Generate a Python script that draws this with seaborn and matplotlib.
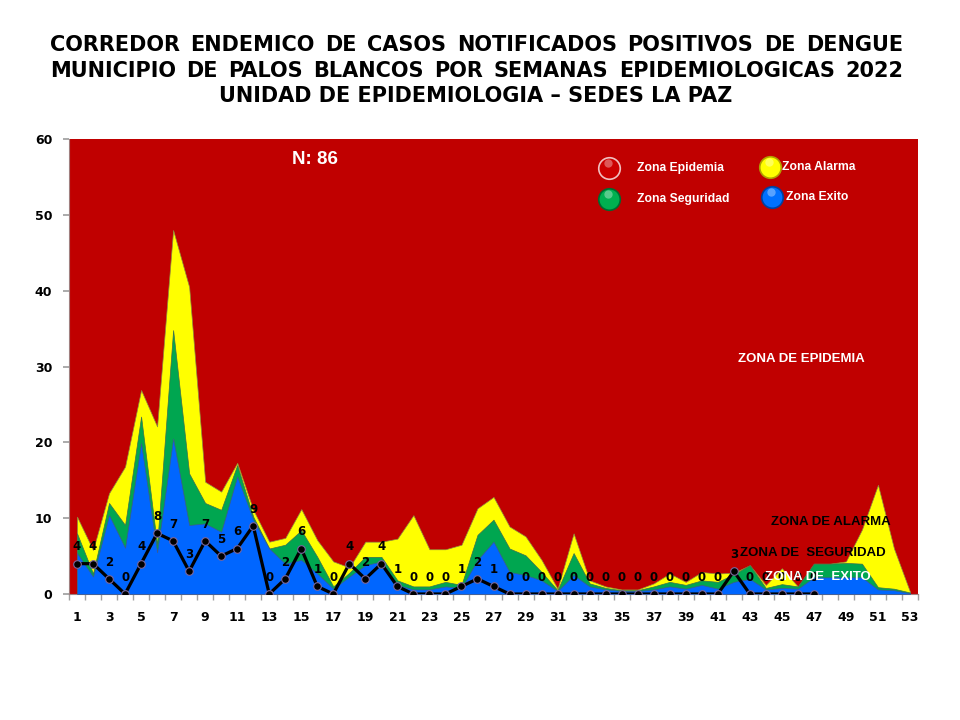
import numpy as np
import pandas as pd
import matplotlib
matplotlib.use("Agg")
import matplotlib.pyplot as plt
import seaborn as sns

# ---------------- data ----------------
weeks = list(range(1, 54))

zona_exito = [5.4, 2.3, 10.4, 6.1, 19.9, 5.5, 20.5, 9.1, 9.3, 8.2,
              15.5, 9.8, 6.0, 4.0, 4.5, 2.7, 0.7, 2.3, 3.8, 4.3,
              1.2, 0.6, 0.6, 1.0, 0.8, 4.5, 6.9, 2.9, 2.5, 1.8,
              0.4, 2.5, 1.0, 0.6, 0.4, 0.4, 0.6, 1.0, 0.7, 1.2,
              0.7, 1.6, 2.0, 0.6, 0.8, 0.7, 2.2, 2.2, 2.2, 2.2,
              0.6, 0.5, 0.1]

zona_seguridad = [8.0, 2.7, 12.0, 9.1, 23.4, 6.5, 34.8, 15.9, 12.0, 11.1,
                  17.0, 10.2, 6.0, 6.5, 8.4, 4.9, 1.0, 2.8, 4.9, 4.9,
                  1.8, 1.0, 1.0, 1.6, 1.2, 7.8, 9.8, 6.0, 5.1, 2.9,
                  0.5, 5.4, 1.4, 0.8, 0.5, 0.5, 1.0, 1.6, 1.2, 1.8,
                  1.6, 2.6, 3.8, 0.8, 1.3, 1.0, 4.0, 4.0, 4.1, 4.0,
                  0.9, 0.7, 0.2]

zona_alarma = [10.2, 5.8, 13.3, 16.8, 26.9, 22.1, 48.0, 40.5, 14.8, 13.5,
               17.3, 11.1, 6.9, 7.4, 11.2, 7.1, 4.3, 3.5, 6.9, 6.9,
               7.3, 10.4, 5.9, 5.9, 6.5, 11.3, 12.8, 8.9, 7.6, 4.5,
               0.7, 8.0, 1.8, 1.0, 0.6, 0.6, 1.4, 2.7, 1.6, 2.9,
               2.7, 2.8, 3.8, 1.2, 3.4, 1.0, 4.0, 4.0, 4.3, 8.5,
               14.4, 6.0, 0.3]

case_weeks = list(range(1, 48))
casos = [4, 4, 2, 0, 4, 8, 7, 3, 7, 5, 6, 9, 0, 2, 6, 1, 0, 4, 2, 4,
         1, 0, 0, 0, 1, 2, 1, 0, 0, 0, 0, 0, 0, 0, 0, 0, 0, 0, 0, 0,
         0, 3, 0, 0, 0, 0, 0]

y_ticks = [0, 10, 20, 30, 40, 50, 60]
x_tick_labels = [str(w) for w in range(1, 54, 2)]

title_lines = ["CORREDOR ENDEMICO DE CASOS NOTIFICADOS POSITIVOS DE DENGUE",
               "MUNICIPIO DE PALOS BLANCOS POR SEMANAS EPIDEMIOLOGICAS 2022",
               "UNIDAD DE EPIDEMIOLOGIA \u2013 SEDES LA PAZ"]

RED = "#C00000"
YELLOW = "#FFFF00"
GREEN = "#00A650"
BLUE = "#0066FF"

# ---------------- figure ----------------
sns.set_theme(style="white")
plt.rcParams["font.family"] = ["DejaVu Sans"]

W, H = 960, 720
fig = plt.figure(figsize=(W / 100, H / 100), dpi=100)
fig.patch.set_facecolor("white")
ax = fig.add_axes([69 / W, 1 - 594 / H, (918 - 69) / W, (594 - 139) / H])
ax.set_facecolor(RED)

zones = pd.DataFrame({"semana": weeks, "exito": zona_exito,
                      "seguridad": zona_seguridad, "alarma": zona_alarma})
ax.fill_between(zones["semana"], 0, zones["alarma"], color=YELLOW,
                edgecolor="#8c8c40", linewidth=0.5, zorder=1)
ax.fill_between(zones["semana"], 0, zones["seguridad"], color=GREEN,
                edgecolor="#3d6e4f", linewidth=0.5, zorder=2)
ax.fill_between(zones["semana"], 0, zones["exito"], color=BLUE,
                edgecolor="#3d5a8c", linewidth=0.5, zorder=3)

df_cases = pd.DataFrame({"semana": case_weeks, "casos": casos})
sns.lineplot(data=df_cases, x="semana", y="casos", ax=ax, color="black",
             linewidth=2.3, marker="o", markersize=5.5,
             markerfacecolor="black", markeredgecolor="#7a68a0",
             markeredgewidth=0.8, zorder=5, legend=False)

for w, c in zip(case_weeks, casos):
    ax.annotate(str(c), (w, c), xytext=(0, 12), textcoords="offset points",
                ha="center", va="center", fontsize=8.5, fontweight="bold",
                color="black", zorder=6)

ax.set_xlim(0.5, 53.5)
ax.set_ylim(0, 60)
ax.set_xticks(range(1, 54, 2))
ax.set_xticklabels(x_tick_labels, fontsize=9, fontweight="bold", color="black")
ax.set_xticks(np.arange(0.5, 54, 1), minor=True)
ax.set_yticks(y_ticks)
ax.set_yticklabels([str(v) for v in y_ticks], fontsize=9, fontweight="bold",
                   color="black")
ax.tick_params(axis="x", which="major", length=0, pad=12)
ax.tick_params(axis="x", which="minor", length=4, color="#a0a0a0",
               direction="out", bottom=True)
ax.tick_params(axis="y", which="major", length=4, color="#a0a0a0",
               direction="out", left=True, pad=8)
ax.set_xlabel("")
ax.set_ylabel("")
for s in ["top", "right"]:
    ax.spines[s].set_visible(False)
for s in ["left", "bottom"]:
    ax.spines[s].set_color("#a08080")
    ax.spines[s].set_linewidth(0.8)

# ---------------- title (justified lines) ----------------
renderer = fig.canvas.get_renderer()
tkw = dict(fontsize=15, fontweight="bold", color="black", va="center",
           ha="left", family="DejaVu Sans")


def justify(line, ypx, x0, x1):
    words = line.split(" ")
    texts = [fig.text(0, 1 - ypx / H, wd, **tkw) for wd in words]
    widths = [t.get_window_extent(renderer).width for t in texts]
    gap = (x1 - x0 - sum(widths)) / (len(words) - 1)
    x = x0
    for t, wdt in zip(texts, widths):
        t.set_position((x / W, 1 - ypx / H))
        x += wdt + gap


justify(title_lines[0], 45, 50, 903)
justify(title_lines[1], 71, 50, 903)
fig.text(476 / W, 1 - 96 / H, title_lines[2], fontsize=15, fontweight="bold",
         color="black", ha="center", va="center")

# ---------------- annotations ----------------
lab = ["Liberation Sans", "DejaVu Sans"]
fig.text(315 / W, 1 - 160 / H, "N: 86", fontsize=13.5, fontweight="bold",
         color="white", ha="center", va="center", family=lab)
fig.text(801 / W, 1 - 359 / H, "ZONA DE EPIDEMIA", fontsize=9.5,
         fontweight="bold", color="white", ha="center", va="center", family=lab)
fig.text(831 / W, 1 - 522 / H, "ZONA DE ALARMA", fontsize=9.5,
         fontweight="bold", color="black", ha="center", va="center", family=lab)
fig.text(740 / W, 1 - 553 / H, "ZONA DE  SEGURIDAD", fontsize=9.5,
         fontweight="bold", color="black", ha="left", va="center", family=lab)
fig.text(765 / W, 1 - 577 / H, "ZONA DE  EXITO", fontsize=9.5,
         fontweight="bold", color="white", ha="left", va="center", family=lab)

# ---------------- legend (glossy balls) ----------------
legend_items = [
    ("Zona Epidemia", "#CC0000", "#f0c0c0", 609, 168, 637),
    ("Zona Alarma", YELLOW, "#b0a000", 770, 167, 782),
    ("Zona Seguridad", "#00B050", "#006a30", 609, 199, 637),
    ("Zona Exito", "#0070FF", "#0040a0", 772, 197, 786),
]
for name, fc, ec, bx, by, tx in legend_items:
    fig.lines.append(plt.Line2D([bx / W], [1 - by / H], marker="o",
                                markersize=15.5, markerfacecolor=fc,
                                markeredgecolor=ec, markeredgewidth=1.2,
                                transform=fig.transFigure, zorder=10))
    fig.lines.append(plt.Line2D([(bx - 1) / W], [1 - (by - 5) / H], marker="o",
                                markersize=6, markerfacecolor="white",
                                markeredgewidth=0, alpha=0.35,
                                transform=fig.transFigure, zorder=11))
    fig.text(tx / W, 1 - by / H, name, fontsize=8.7, fontweight="bold",
             color="white", ha="left", va="center", family=lab, zorder=12)

fig.savefig("out.png", dpi=100)
